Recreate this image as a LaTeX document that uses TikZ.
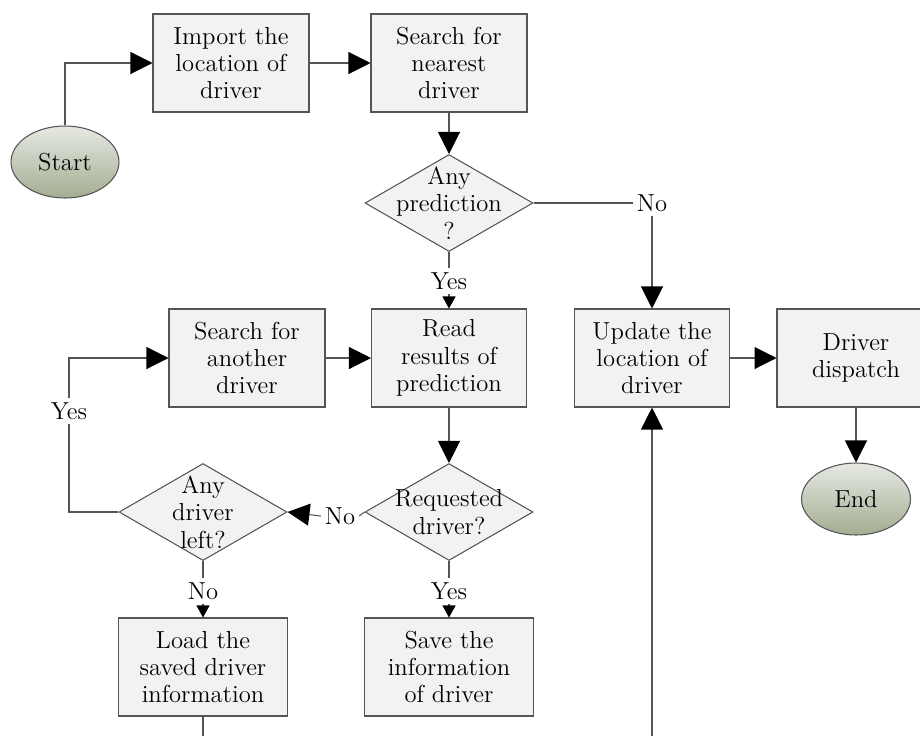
\documentclass[tikz,border=0pt]{standalone}
\usetikzlibrary{shapes.geometric,arrows.meta}
\definecolor{boxfill}{HTML}{F3F2F0}
\definecolor{linegray}{HTML}{555555}
\definecolor{ovaltop}{HTML}{E6E9E2}
\definecolor{ovalbot}{HTML}{A3AD92}
\begin{document}
\begin{tikzpicture}[x=0.02cm,y=-0.02cm,line width=0.6pt,
  font=\fontsize{14}{15.6}\selectfont,
  proc/.style={draw=linegray,fill=boxfill,align=center,minimum width=3.12cm,minimum height=1.96cm,inner sep=1pt},
  term/.style={ellipse,draw=linegray,top color=ovaltop,bottom color=ovalbot,minimum width=2.16cm,minimum height=1.44cm},
  decision/.style={diamond,draw=linegray,fill=boxfill,minimum width=3.36cm,minimum height=1.94cm,inner sep=0pt},
  big/.style={draw=linegray,-{Triangle[length=0.44cm,width=0.44cm,color=black]}},
  small/.style={draw=linegray,-{Triangle[length=0.24cm,width=0.26cm,color=black]}},
  plain/.style={draw=linegray},
  lbl/.style={inner sep=2pt}]
\clip (0,0) rectangle (920,735);
\node[term] (start) at (65,162) {Start};
\node[proc] (import) at (231,63) {Import the\\location of\\driver};
\node[proc] (nearest) at (449,63) {Search for\\nearest\\driver};
\node[decision,label={[align=center]center:Any\\prediction\\?}] (pred) at (449,203) {};
\node[lbl] (no1) at (652,203) {No};
\node[lbl] (yes1) at (449,281) {Yes};
\node[proc] (another) at (247,358) {Search for\\another\\driver};
\node[proc,minimum width=3.1cm] (read) at (449,358) {Read\\results of\\prediction};
\node[proc,minimum width=3.1cm] (update) at (652,358) {Update the\\location of\\driver};
\node[proc,minimum width=3.16cm] (dispatch) at (856,358) {Driver\\dispatch};
\node[term,minimum width=2.18cm] (end) at (856,499) {End};
\node[decision,label={[align=center]center:Requested\\driver?}] (req) at (449,512) {};
\node[decision,label={[align=center]center:Any\\driver\\left?}] (left) at (203,512) {};
\node[lbl] (no2) at (340,516) {No};
\node[lbl] (yes2) at (69,411) {Yes};
\node[lbl] (no3) at (203,591) {No};
\node[lbl] (yes3) at (449,591) {Yes};
\node[proc,minimum width=3.38cm] (load) at (203,667) {Load the\\saved driver\\information};
\node[proc,minimum width=3.38cm] (save) at (449,667) {Save the\\information\\of driver};
\coordinate (loadout) at (203,745);
\coordinate (upin) at (652,745);

\draw[big] (start.north) |- (import.west);
\draw[big] (import) -- (nearest);
\draw[big] (nearest) -- (pred);
\draw[plain] (pred.east) -- (no1.west);
\draw[big] (no1) -- (update);
\draw[plain] (pred.south) -- (yes1);
\draw[small] (yes1) -- (read);
\draw[big] (another) -- (read);
\draw[big] (read) -- (req);
\draw[big] (update) -- (dispatch);
\draw[big] (dispatch) -- (end);
\draw[plain] (req.west) -- (no2.east);
\draw[big] (no2.west) -- (left.east);
\draw[plain] (left.west) -| (yes2);
\draw[big] (yes2) |- (another.west);
\draw[plain] (left.south) -- (no3);
\draw[small] (no3) -- (load);
\draw[plain] (req.south) -- (yes3);
\draw[small] (yes3) -- (save);
\draw[plain] (load) -- (loadout);
\draw[big] (upin) -- (update);
\end{tikzpicture}
\end{document}
